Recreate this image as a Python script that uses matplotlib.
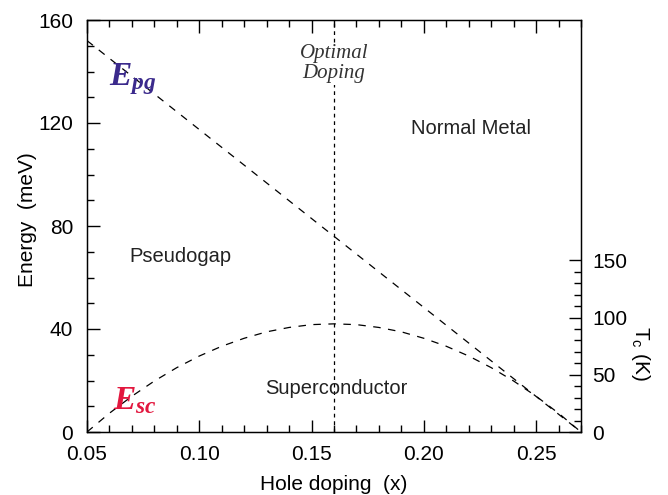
import matplotlib
matplotlib.use("Agg")
import matplotlib.pyplot as plt
from matplotlib.ticker import MultipleLocator, FixedLocator

plt.rcParams['font.family'] = ['Liberation Sans', 'DejaVu Sans']
plt.rcParams['mathtext.fontset'] = 'custom'
plt.rcParams['mathtext.rm'] = 'Liberation Sans'
plt.rcParams['mathtext.it'] = 'Liberation Serif:italic:bold'
plt.rcParams['mathtext.bf'] = 'Liberation Serif:italic:bold'

# Pseudogap energy line (meV)
pg_x = [0.05, 0.27]
pg_e = [152.0, 0.0]

# Superconducting dome (meV)
sc_x = [0.05, 0.06, 0.07, 0.08, 0.09, 0.10, 0.11, 0.12, 0.13, 0.14, 0.15, 0.16,
        0.17, 0.18, 0.19, 0.20, 0.21, 0.22, 0.23, 0.24, 0.25, 0.26, 0.27]
sc_e = [0.0, 7.3, 13.9, 19.8, 25.0, 29.5, 33.3, 36.4, 38.9, 40.6, 41.7, 42.0,
        41.7, 40.6, 38.9, 36.4, 33.3, 29.5, 25.0, 19.8, 13.9, 7.3, 0.0]

optimal_x = 0.16
tc_ticks = [0, 50, 100, 150]

fig = plt.figure(figsize=(6.68, 4.95), dpi=100)
ax = fig.add_axes([87/668, 63/495, 494/668, 412/495])

ax.plot(pg_x, pg_e, color='black', lw=0.9, linestyle=(0, (6, 6)))
ax.plot(sc_x, sc_e, color='black', lw=0.9, linestyle=(0, (6, 6)))
ax.axvline(optimal_x, color='black', lw=0.9, linestyle=(0, (3, 3)))

ax.set_xlim(0.05, 0.27)
ax.set_ylim(0, 160)
ax.xaxis.set_major_locator(FixedLocator([0.05, 0.10, 0.15, 0.20, 0.25]))
ax.xaxis.set_minor_locator(MultipleLocator(0.01))
ax.yaxis.set_major_locator(MultipleLocator(40))
ax.yaxis.set_minor_locator(MultipleLocator(10))
ax.set_xticklabels(['0.05', '0.10', '0.15', '0.20', '0.25'])
ax.tick_params(which='both', direction='in', top=True, right=False, labelsize=15, width=1)
ax.tick_params(which='major', length=9)
ax.tick_params(which='minor', length=5)
ax.tick_params(axis='x', which='major', pad=9)
ax.tick_params(axis='y', which='major', pad=10)
for s in ax.spines.values():
    s.set_linewidth(1.0)

ax.set_xlabel('Hole doping  (x)', fontsize=15, labelpad=8)
ax.set_ylabel('Energy  (meV)', fontsize=15)
ax.yaxis.set_label_coords(-0.101, 0.515)

ax2 = ax.twinx()
ax2.set_ylim(0, 360)
ax2.yaxis.set_major_locator(FixedLocator(tc_ticks))
ax2.yaxis.set_minor_locator(FixedLocator(list(range(0, 151, 10))))
ax2.tick_params(which='both', direction='in', labelsize=15, width=1)
ax2.tick_params(which='major', length=9, pad=8)
ax2.tick_params(which='minor', length=5)
ax2.set_ylabel(r'T$_\mathrm{c}$ (K)', fontsize=15, rotation=-90, va='center')
ax2.yaxis.set_label_coords(1.12, 0.19)

ax.text(0.0705, 137, r'$E_{pg}$', fontsize=24, color='#3b2a8c', ha='center', va='center')
ax.text(0.0715, 12, r'$E_{sc}$', fontsize=24, color='#e2173e', ha='center', va='center')
ax.text(optimal_x, 143, 'Optimal\nDoping', family='Liberation Serif', style='italic',
        fontsize=15, color='#333333', ha='center', va='center', linespacing=1.05,
        bbox=dict(facecolor='white', edgecolor='none', pad=1))
ax.text(0.221, 118, 'Normal Metal', fontsize=14.5, color='#222222', ha='center', va='center')
ax.text(0.0915, 68, 'Pseudogap', fontsize=14.5, color='#222222', ha='center', va='center')
ax.text(0.161, 17, 'Superconductor', fontsize=14.5, color='#222222', ha='center', va='center')

fig.savefig('out.png', dpi=100)
